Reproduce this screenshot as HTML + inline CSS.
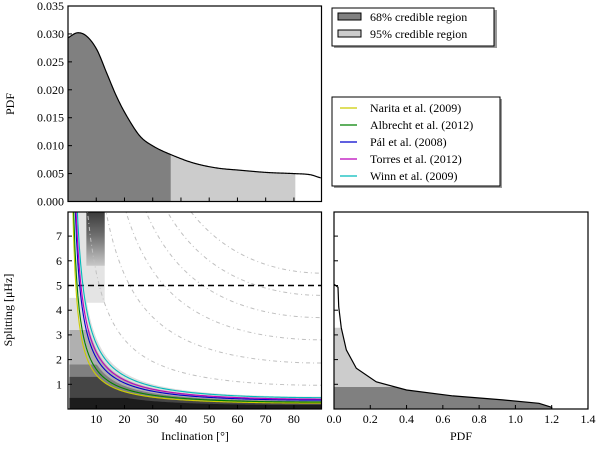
<!DOCTYPE html>
<html><head><meta charset="utf-8"><style>
body{margin:0;background:#fff;width:600px;height:451px;overflow:hidden}
svg text{font-family:"Liberation Serif",serif;font-size:12px;fill:#000}
</style></head><body>
<svg id="c" width="600" height="451" viewBox="0 0 600 451" xmlns="http://www.w3.org/2000/svg"></svg>
<script>
// ---- data ----
const topIncl=[0,3.3,6.6,10.2,13.7,17.2,20.8,25.5,30.2,36.4,44.4,52.7,60.9,70.4,79.8,85.7,89.6];
const topPdf=[0.0293,0.0302,0.0296,0.0272,0.023,0.0188,0.0153,0.0117,0.0099,0.0084,0.0069,0.006,0.0056,0.0052,0.005,0.0048,0.0042];
const cred68=[0,36.4];
const cred95=[36.4,80.5];
const topYTicks=[0,0.005,0.010,0.015,0.020,0.025,0.030,0.035];
const inclTicks=[10,20,30,40,50,60,70,80];
const splitTicks=[1,2,3,4,5,6,7];
const rightSplit=[0,0.07,0.23,0.37,0.53,0.77,1.1,1.65,2.39,3.29,4.14,4.93,5.05];
const rightPdf=[1.2,1.2,1.13,0.93,0.656,0.4,0.233,0.123,0.068,0.04,0.026,0.022,0];
const right68Max=0.89, right95Max=3.29;
const pdfTicks=[0,0.2,0.4,0.6,0.8,1.0,1.2,1.4];
const refNames=["Narita et al. (2009)","Albrecht et al. (2012)","Pál et al. (2008)","Torres et al. (2012)","Winn et al. (2009)"];
const refConst=[0.24,0.28,0.36,0.40,0.46];
const refColors=["#cccc00","#008000","#0000cc","#bb00bb","#00bbbb"];
const isoConst=[5.5,4.6,3.7,2.8,1.86,0.96];
const densityC=[0.5,0.42,0.32,0.24,0.16];
const densityCap=[4.5,3.2,1.8,1.3,0.45];
const densityFill=["#dedede","#b0b0b0","#808080","#454545","#1c1c1c"];
const dashLevel=5;

const svg=document.getElementById('c');
const NS="http://www.w3.org/2000/svg";
function mk(tag,attrs,parent){const e=document.createElementNS(NS,tag);for(const k in attrs)e.setAttribute(k,attrs[k]);(parent||svg).appendChild(e);return e;}
const L=68,R=321.5,TT=6,TB=201.5,BT=212,BB=409,RL=334,RR=588;
const xI=i=>L+i*2.824;
const yT=v=>TB-v/0.035*(TB-TT);
const yS=s=>BB-s*24.7;
const xP=p=>RL+p*181.4;
const rad=d=>d*Math.PI/180;

// smooth interpolation (Catmull-Rom) through data points
function smooth(xs,ys,x){
 let k=1;while(k<xs.length-1&&x>xs[k])k++;
 const i0=Math.max(k-2,0),i1=k-1,i2=k,i3=Math.min(k+1,xs.length-1);
 const t=(x-xs[i1])/(xs[i2]-xs[i1]);
 const m1=(ys[i2]-ys[i0])/(xs[i2]-xs[i0])*(xs[i2]-xs[i1]);
 const m2=(ys[i3]-ys[i1])/(xs[i3]-xs[i1])*(xs[i2]-xs[i1]);
 const t2=t*t,t3=t2*t;
 return (2*t3-3*t2+1)*ys[i1]+(t3-2*t2+t)*m1+(-2*t3+3*t2)*ys[i2]+(t3-t2)*m2;
}
const interpTop=i=>smooth(topIncl,topPdf,i);

// ---- top panel ----
let e;
function topRegion(a,b){let d="M"+xI(a)+","+TB;for(let i=a;i<b;i+=0.25)d+=" L"+xI(i)+","+yT(interpTop(i));d+=" L"+xI(b)+","+yT(interpTop(b))+" L"+xI(b)+","+TB+"Z";return d;}
e=mk('path',{d:topRegion(cred95[0],cred95[1]),fill:"#cccccc"});


e=mk('path',{d:topRegion(cred68[0],cred68[1]),fill:"#808080"});


let pl="";
for(let i=topIncl[0];i<=topIncl[topIncl.length-1];i+=0.25)pl+=(pl?" L":"M")+xI(i)+","+yT(interpTop(i));
e=mk('path',{d:pl,fill:"none",stroke:"#000","stroke-width":1.2});


e=mk('rect',{x:L,y:TT,width:R-L,height:TB-TT,fill:"none",stroke:"#000","stroke-width":1.2});


topYTicks.forEach(v=>{
 mk('line',{x1:L,x2:L+4,y1:yT(v),y2:yT(v),stroke:"#000"});
 e=mk('text',{x:L-4,y:yT(v)+4,"text-anchor":"end"});e.textContent=v.toFixed(3);
 
 
});
inclTicks.forEach(v=>{mk('line',{x1:xI(v),x2:xI(v),y1:TB,y2:TB-4,stroke:"#000"});});
e=mk('text',{x:14,y:104,"text-anchor":"middle",transform:"rotate(-90 14 104)"});e.textContent="PDF";



// ---- bottom-left panel ----
const defs=mk('defs',{});
const clip=mk('clipPath',{id:"cl"},defs);mk('rect',{x:L,y:BT,width:R-L,height:BB-BT},clip);
const gr=mk('linearGradient',{id:"blobg",x1:0,y1:0,x2:0,y2:1},defs);
mk('stop',{offset:"0","stop-color":"#3a3a3a"},gr);
mk('stop',{offset:"0.45","stop-color":"#707070"},gr);
mk('stop',{offset:"1","stop-color":"#c8c8c8"},gr);
const g=mk('g',{"clip-path":"url(#cl)"});


e=mk('rect',{x:xI(3),y:yS(8),width:xI(13)-xI(3),height:yS(4.3)-yS(8),fill:"#e4e4e4"},g);


e=mk('rect',{x:xI(6.5),y:yS(8),width:xI(13)-xI(6.5),height:yS(5.8)-yS(8),fill:"url(#blobg)"},g);


densityC.forEach((c,k)=>{
 let d="M"+xI(0.5)+","+BB;
 for(let i=0.5;i<=90;i+=0.5)d+=" L"+xI(i)+","+yS(Math.min(densityCap[k],c/Math.sin(rad(i))));
 d+=" L"+xI(90)+","+BB+"Z";
 e=mk('path',{d:d,fill:densityFill[k]},g);
 
 
});
isoConst.forEach(c=>{
 let d="";for(let i=1;i<=90;i+=1)d+=(i>1?" L":"M")+xI(i)+","+yS(c/Math.sin(rad(i)));
 e=mk('path',{d:d,fill:"none",stroke:"#c0c0c0","stroke-width":1,"stroke-dasharray":"4 3 1 3"},g);
 
 
});
e=mk('line',{x1:L,x2:R,y1:yS(dashLevel),y2:yS(dashLevel),stroke:"#000","stroke-width":1.6,"stroke-dasharray":"6 4"},g);


refConst.forEach((c,k)=>{
 let d="";for(let i=1;i<=90;i+=0.5)d+=(i>1?" L":"M")+xI(i)+","+yS(c/Math.sin(rad(i)));
 e=mk('path',{d:d,fill:"none",stroke:refColors[k],"stroke-width":1.1},g);
 
 
});
e=mk('rect',{x:L,y:BT,width:R-L,height:BB-BT,fill:"none",stroke:"#000","stroke-width":1.2});


inclTicks.forEach(v=>{
 mk('line',{x1:xI(v),x2:xI(v),y1:BB,y2:BB-4,stroke:"#000"});
 e=mk('text',{x:xI(v),y:BB+14,"text-anchor":"middle"});e.textContent=v;
 
 
});
splitTicks.forEach(v=>{
 mk('line',{x1:L,x2:L+4,y1:yS(v),y2:yS(v),stroke:"#000"});
 e=mk('text',{x:L-6,y:yS(v)+4,"text-anchor":"end"});e.textContent=v;
 
 
});
e=mk('text',{x:195,y:440,"text-anchor":"middle"});e.textContent="Inclination [°]";


e=mk('text',{x:12,y:310,"text-anchor":"middle",transform:"rotate(-90 12 310)"});e.textContent="Splitting [μHz]";



// ---- right panel ----
function interpR(s){for(let k=1;k<rightSplit.length;k++){if(s<=rightSplit[k]){const t=(s-rightSplit[k-1])/(rightSplit[k]-rightSplit[k-1]);return rightPdf[k-1]+t*(rightPdf[k]-rightPdf[k-1]);}}return 0;}
function regionPath(smax){let d="M"+RL+","+yS(0);for(let s=0;s<=smax;s+=0.02)d+=" L"+xP(interpR(s))+","+yS(s);d+=" L"+xP(interpR(smax))+","+yS(smax)+" L"+RL+","+yS(smax)+"Z";return d;}
e=mk('path',{d:regionPath(right95Max),fill:"#cccccc"});


e=mk('path',{d:regionPath(right68Max),fill:"#808080"});


let rl="";rightSplit.forEach((s,k)=>{rl+=(k?" L":"M")+xP(rightPdf[k])+","+yS(s);});
e=mk('path',{d:rl,fill:"none",stroke:"#000","stroke-width":1.2});


e=mk('rect',{x:RL,y:BT,width:RR-RL,height:BB-BT,fill:"none",stroke:"#000","stroke-width":1.2});


splitTicks.forEach(v=>{mk('line',{x1:RL,x2:RL+4,y1:yS(v),y2:yS(v),stroke:"#000"});});
pdfTicks.forEach(v=>{
 mk('line',{x1:xP(v),x2:xP(v),y1:BB,y2:BB-4,stroke:"#000"});
 e=mk('text',{x:xP(v),y:BB+14,"text-anchor":"middle"});e.textContent=v.toFixed(1);
 
 
});
e=mk('text',{x:461,y:440,"text-anchor":"middle"});e.textContent="PDF";



// ---- legends ----
const lg1=mk('g',{});


mk('rect',{x:334,y:10,width:163,height:38,fill:"#999"},lg1);
mk('rect',{x:332,y:8,width:162,height:38,fill:"#fff",stroke:"#000"},lg1);
[["#808080","68% credible region"],["#cccccc","95% credible region"]].forEach((r,k)=>{
 mk('rect',{x:338,y:13+k*17,width:23,height:7,fill:r[0],stroke:"#000"},lg1);
 e=mk('text',{x:370,y:21+k*17},lg1);e.textContent=r[1];
 
 
});
const lg2=mk('g',{});


mk('rect',{x:334,y:99,width:168,height:89,fill:"#999"},lg2);
mk('rect',{x:332,y:97,width:168,height:89,fill:"#fff",stroke:"#000"},lg2);
refNames.forEach((n,k)=>{
 mk('line',{x1:340,x2:357,y1:108+k*17,y2:108+k*17,stroke:refColors[k],"stroke-width":1.2},lg2);
 e=mk('text',{x:370,y:112+k*17},lg2);e.textContent=n;
 
 
});
</script>
</body></html>
